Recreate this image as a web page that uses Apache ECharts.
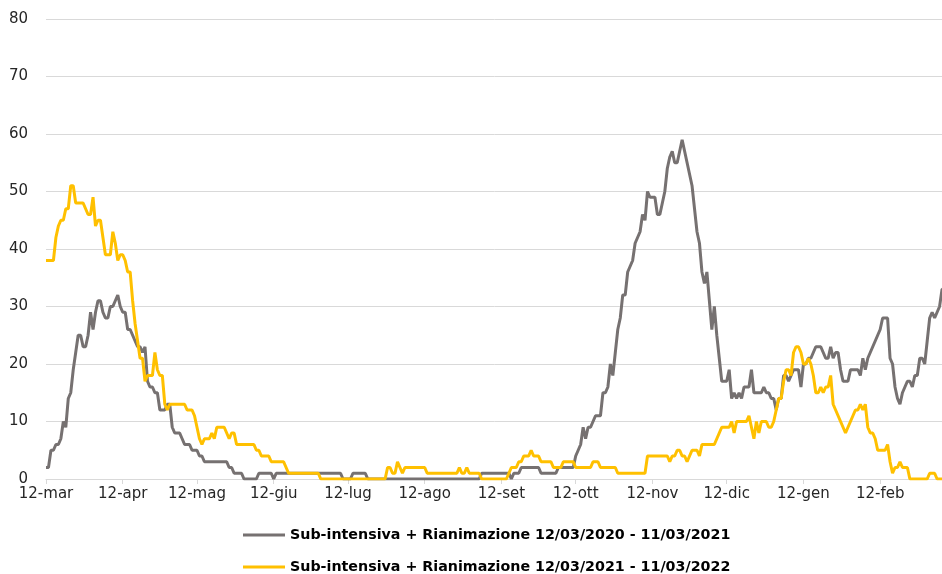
<!DOCTYPE html>
<html>
<head>
<meta charset="utf-8">
<script src="https://cdn.jsdelivr.net/npm/echarts@6/dist/echarts.min.js"></script>
<style>html,body{margin:0;padding:0;background:#fff}</style>
</head>
<body>
<div id="chart" style="width:942px;height:574px"></div>
<script type="text/javascript">

    // mesi in italiano, asse da 12-mar a 11-mar (365 giorni)
    var monthNames = ['gen', 'feb', 'mar', 'apr', 'mag', 'giu', 'lug', 'ago', 'set', 'ott', 'nov', 'dic'];
    var monthLength = [31, 28, 31, 30, 31, 30, 31, 31, 30, 31, 30, 31];
    var tickDay = 12;   // etichette ogni 12 del mese

    var seriesNames = [
        'Sub-intensiva + Rianimazione 12/03/2020 - 11/03/2021',
        'Sub-intensiva + Rianimazione 12/03/2021 - 11/03/2022'
    ];

    // 2020-2021
    var values2020 = [
        2, 2, 5, 5, 6, 6, 7, 10, 9, 14,
        15, 19, 22, 25, 25, 23, 23, 25, 29, 26,
        29, 31, 31, 29, 28, 28, 30, 30, 31, 32,
        30, 29, 29, 26, 26, 25, 24, 23, 23, 22,
        23, 17, 16, 16, 15, 15, 12, 12, 12, 13,
        13, 9, 8, 8, 8, 7, 6, 6, 6, 5,
        5, 5, 4, 4, 3, 3, 3, 3, 3, 3,
        3, 3, 3, 3, 2, 2, 1, 1, 1, 1,
        0, 0, 0, 0, 0, 0, 1, 1, 1, 1,
        1, 1, 0, 1, 1, 1, 1, 1, 1, 1,
        1, 1, 1, 1, 1, 1, 1, 1, 1, 1,
        1, 1, 1, 1, 1, 1, 1, 1, 1, 1,
        0, 0, 0, 0, 1, 1, 1, 1, 1, 1,
        0, 0, 0, 0, 0, 0, 0, 0, 0, 0,
        0, 0, 0, 0, 0, 0, 0, 0, 0, 0,
        0, 0, 0, 0, 0, 0, 0, 0, 0, 0,
        0, 0, 0, 0, 0, 0, 0, 0, 0, 0,
        0, 0, 0, 0, 0, 0, 1, 1, 1, 1,
        1, 1, 1, 1, 1, 1, 1, 1, 0, 1,
        1, 1, 2, 2, 2, 2, 2, 2, 2, 2,
        1, 1, 1, 1, 1, 1, 1, 2, 2, 2,
        2, 2, 2, 2, 4, 5, 6, 9, 7, 9,
        9, 10, 11, 11, 11, 15, 15, 16, 20, 18,
        22, 26, 28, 32, 32, 36, 37, 38, 41, 42,
        43, 46, 45, 50, 49, 49, 49, 46, 46, 48,
        50, 54, 56, 57, 55, 55, 57, 59, 57, 55,
        53, 51, 47, 43, 41, 36, 34, 36, 31, 26,
        30, 25, 21, 17, 17, 17, 19, 14, 15, 14,
        15, 14, 16, 16, 16, 19, 15, 15, 15, 15,
        16, 15, 15, 14, 14, 12, 14, 14, 18, 18,
        17, 18, 19, 19, 19, 16, 20, 20, 21, 21,
        22, 23, 23, 23, 22, 21, 21, 23, 21, 22,
        22, 19, 17, 17, 17, 19, 19, 19, 19, 18,
        21, 19, 21, 22, 23, 24, 25, 26, 28, 28,
        28, 21, 20, 16, 14, 13, 15, 16, 17, 17,
        16, 18, 18, 21, 21, 20, 24, 28, 29, 28,
        29, 30, 33, 33, 34
    ];

    // 2021-2022
    var values2021 = [
        38, 38, 38, 38, 42, 44, 45, 45, 47, 47,
        51, 51, 48, 48, 48, 48, 47, 46, 46, 49,
        44, 45, 45, 42, 39, 39, 39, 43, 41, 38,
        39, 39, 38, 36, 36, 31, 27, 24, 21, 21,
        17, 18, 18, 18, 22, 19, 18, 18, 13, 12,
        13, 13, 13, 13, 13, 13, 13, 12, 12, 12,
        11, 9, 7, 6, 7, 7, 7, 8, 7, 9,
        9, 9, 9, 8, 7, 8, 8, 6, 6, 6,
        6, 6, 6, 6, 6, 5, 5, 4, 4, 4,
        4, 3, 3, 3, 3, 3, 3, 2, 1, 1,
        1, 1, 1, 1, 1, 1, 1, 1, 1, 1,
        1, 0, 0, 0, 0, 0, 0, 0, 0, 0,
        0, 0, 0, 0, 0, 0, 0, 0, 0, 0,
        0, 0, 0, 0, 0, 0, 0, 0, 2, 2,
        1, 1, 3, 2, 1, 2, 2, 2, 2, 2,
        2, 2, 2, 2, 1, 1, 1, 1, 1, 1,
        1, 1, 1, 1, 1, 1, 1, 2, 1, 1,
        2, 1, 1, 1, 1, 1, 0, 0, 0, 0,
        0, 0, 0, 0, 0, 0, 0, 1, 2, 2,
        2, 3, 3, 4, 4, 4, 5, 4, 4, 4,
        3, 3, 3, 3, 3, 2, 2, 2, 2, 3,
        3, 3, 3, 3, 2, 2, 2, 2, 2, 2,
        2, 3, 3, 3, 2, 2, 2, 2, 2, 2,
        2, 1, 1, 1, 1, 1, 1, 1, 1, 1,
        1, 1, 1, 4, 4, 4, 4, 4, 4, 4,
        4, 4, 3, 4, 4, 5, 5, 4, 4, 3,
        4, 5, 5, 5, 4, 6, 6, 6, 6, 6,
        6, 7, 8, 9, 9, 9, 9, 10, 8, 10,
        10, 10, 10, 10, 11, 9, 7, 10, 8, 10,
        10, 10, 9, 9, 10, 12, 14, 14, 17, 19,
        19, 18, 22, 23, 23, 22, 20, 20, 21, 20,
        18, 15, 15, 16, 15, 16, 16, 18, 13, 12,
        11, 10, 9, 8, 9, 10, 11, 12, 12, 13,
        12, 13, 9, 8, 8, 7, 5, 5, 5, 5,
        6, 3, 1, 2, 2, 3, 2, 2, 2, 0,
        0, 0, 0, 0, 0, 0, 0, 1, 1, 1,
        0, 0, 0, 0, 0
    ];

    // categorie giornaliere "g-mese" partendo dal 12 marzo
    var days = [];
    var m = 2, d = 12;
    while (days.length < values2020.length) {
        days.push(d + '-' + monthNames[m]);
        d++;
        if (d > monthLength[m]) { d = 1; m = (m + 1) % 12; }
    }

    function isTick(index, value) {
        return value.indexOf(tickDay + '-') === 0;
    }

    var font = 'DejaVu Sans';
    var legendText = {fontFamily: font, fontWeight: 'bold', fontSize: 14.25, color: '#000'};

    var option = {
        animation: false,
        backgroundColor: '#ffffff',
        grid: {left: 46, top: 19, width: 901, height: 460, outerBoundsMode: 'none', containLabel: false},
        legend: [{
            data: [seriesNames[0]],
            left: 243, top: 528, padding: 0,
            icon: 'rect', itemWidth: 42, itemHeight: 3, itemGap: 5,
            textStyle: legendText
        }, {
            data: [seriesNames[1]],
            left: 243, top: 560, padding: 0,
            icon: 'rect', itemWidth: 42, itemHeight: 3, itemGap: 5,
            textStyle: legendText
        }],
        xAxis: {
            type: 'category',
            data: days,
            boundaryGap: false,
            axisLine: {lineStyle: {color: '#d9d9d9', width: 1}},
            axisTick: {show: true, interval: isTick, length: 5, lineStyle: {color: '#d9d9d9'}},
            axisLabel: {interval: isTick, margin: 8, fontFamily: font, fontSize: 15, color: '#262626'},
            splitLine: {show: false}
        },
        yAxis: {
            type: 'value',
            min: 0, max: 80, interval: 10,
            axisLine: {show: false},
            axisTick: {show: false},
            axisLabel: {margin: 18, fontFamily: font, fontSize: 15, color: '#262626'},
            splitLine: {lineStyle: {color: '#d9d9d9', width: 1}}
        },
        series: [{
            name: seriesNames[0],
            type: 'line',
            data: values2020,
            symbol: 'none',
            color: '#767171',
            lineStyle: {color: '#767171', width: 3}
        }, {
            name: seriesNames[1],
            type: 'line',
            data: values2021,
            symbol: 'none',
            color: '#FFC000',
            lineStyle: {color: '#FFC000', width: 3}
        }]
    };

    var myChart = echarts.init(document.getElementById('chart'));
    myChart.setOption(option);
</script>
</body>
</html>
